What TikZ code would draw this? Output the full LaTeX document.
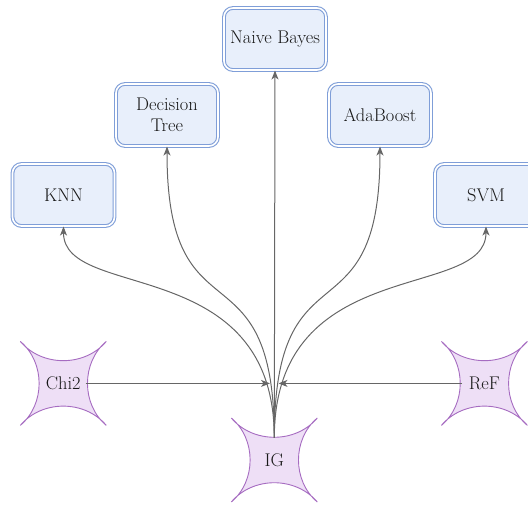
\documentclass[tikz,border=0pt]{standalone}
\usepackage{fontspec}
\usetikzlibrary{arrows.meta,calc}
\definecolor{boxfill}{HTML}{E8EFFB}
\definecolor{boxline}{HTML}{7F9ED8}
\definecolor{starfill}{HTML}{EEDFF6}
\definecolor{starline}{HTML}{A66CC1}
\definecolor{edgecol}{HTML}{666666}
\newcommand\fourstar[1]{%
  \draw[starsty] ($(#1)+(-43,-42)$) to[bend right=50] ($(#1)+(43,-42)$)
    to[bend right=50] ($(#1)+(43,42)$) to[bend right=50] ($(#1)+(-43,42)$)
    to[bend right=50] ($(#1)+(-43,-42)$) -- cycle;}
\begin{document}
\begin{tikzpicture}[x=1pt,y=-1pt,
  txt/.style={font=\fontsize{18.4}{21}\selectfont, text=black!90},
  clf/.style={txt, draw=boxline, line width=1.1pt, double=white, double distance=1.6pt,
    fill=boxfill, rounded corners=9pt, minimum width=102pt, minimum height=62pt,
    align=center, inner sep=0pt},
  sel/.style={txt, minimum size=44pt, inner sep=0pt},
  starsty/.style={draw=starline, fill=starfill, line width=0.9pt},
  edge/.style={draw=edgecol, line width=1pt, -{Stealth[length=9pt,width=7pt,inset=2.5pt]}}]
\useasboundingbox (0,0) rectangle (528,506);
\clip (0,0) rectangle (528,506);
% selection methods (stars)
\coordinate (cchi) at (63.3,383.4);
\coordinate (cig) at (274.3,460);
\coordinate (cref) at (484.4,383.4);
\coordinate (jl) at (270,383.4);
\coordinate (jr) at (278.5,383.4);
\fourstar{cchi}
\fourstar{cig}
\fourstar{cref}
\node[sel] (chi2) at (cchi) {Chi2};
\node[sel] (ig) at (cig) {IG};
\node[sel] (ref) at (cref) {ReF};
% classifiers
\node[clf] (nb) at (275,39) {Naive Bayes};
\node[clf] (dt) at (167,115) {Decision\\Tree};
\node[clf] (knn) at (63.5,195) {KNN};
\node[clf] (ada) at (380,115) {AdaBoost};
\node[clf] (svm) at (486,195) {SVM};
% connectors
\draw[edge] (chi2) -- (jl);
\draw[edge] (ref) -- (jr);
\draw[edge] (ig.north) -- (nb.south);
\draw[edge] (ig.north) .. controls +(0,-185) and +(0,75) .. (knn.south);
\draw[edge] (ig.north) .. controls +(0,-200) and +(0,200) .. (dt.south);
\draw[edge] (ig.north) .. controls +(0,-200) and +(0,200) .. (ada.south);
\draw[edge] (ig.north) .. controls +(0,-185) and +(0,75) .. (svm.south);
\end{tikzpicture}
\end{document}
